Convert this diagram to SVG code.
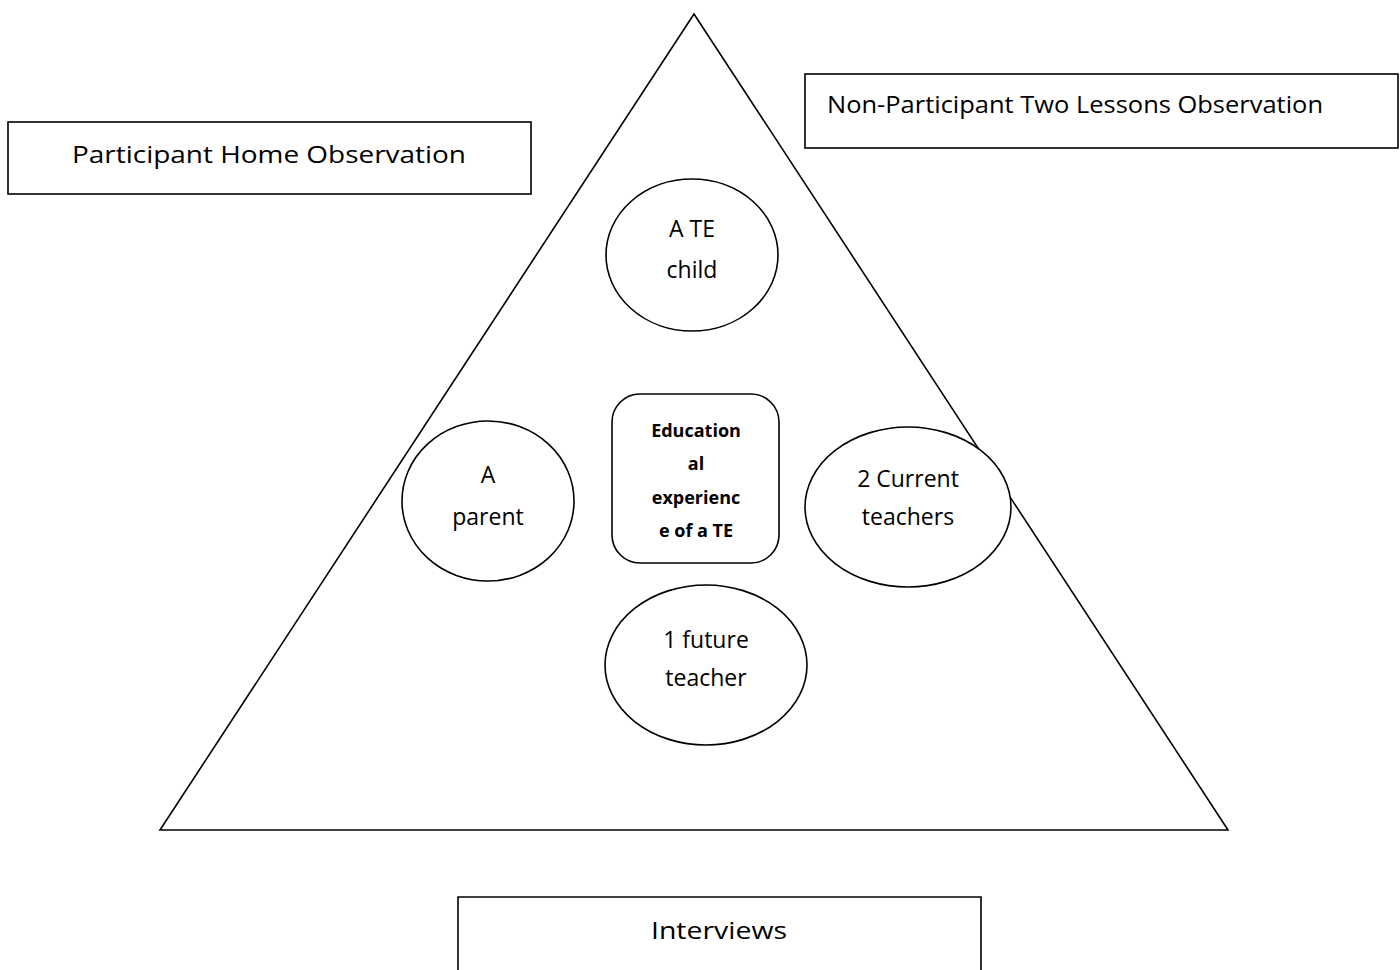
<svg xmlns="http://www.w3.org/2000/svg" width="1400" height="970" viewBox="0 0 1400 970">
<style>
.s{fill:#fff;stroke:#000;stroke-width:1.6}
.t{font-family:"Open Sans",Lato,sans-serif;font-size:23px;fill:#000;text-anchor:middle}
.b{font-family:"Open Sans",Lato,sans-serif;font-size:18px;font-weight:bold;fill:#000;text-anchor:middle}
</style>
<rect width="1400" height="970" fill="#fff"/>
<g id="triangle"><polygon points="694,14 160,830 1228,830" fill="none" stroke="#000" stroke-width="1.6"/></g>
<g id="connectors"></g>
<g id="home"><rect class="s" x="8" y="122" width="523" height="72"/><text class="t" x="269" y="163" font-size="25" textLength="394" lengthAdjust="spacingAndGlyphs">Participant Home Observation</text></g>
<g id="nonpart"><rect class="s" x="805" y="74" width="593" height="74"/><text class="t" x="827" y="113" font-size="25" style="text-anchor:start" textLength="496" lengthAdjust="spacingAndGlyphs">Non-Participant Two Lessons Observation</text></g>
<g id="interviews"><path class="s" d="M458,972 V897 H981 V972"/><text class="t" x="719" y="939" font-size="25" textLength="136" lengthAdjust="spacingAndGlyphs">Interviews</text></g>
<g id="child"><ellipse class="s" cx="692" cy="255" rx="86" ry="76"/><text class="t" x="692" y="237">A TE</text><text class="t" x="692" y="278">child</text></g>
<g id="parent"><ellipse class="s" cx="488" cy="501" rx="86" ry="80"/><text class="t" x="488" y="483">A</text><text class="t" x="488" y="525">parent</text></g>
<g id="current"><ellipse class="s" cx="908" cy="507" rx="103" ry="80"/><text class="t" x="908" y="487">2 Current</text><text class="t" x="908" y="525">teachers</text></g>
<g id="future"><ellipse class="s" cx="706" cy="665" rx="101" ry="80"/><text class="t" x="706" y="648">1 future</text><text class="t" x="706" y="686">teacher</text></g>
<g id="center"><rect class="s" x="612" y="394" width="167" height="169" rx="28"/><text class="b" x="696" y="437">Education</text><text class="b" x="696" y="470">al</text><text class="b" x="696" y="504">experienc</text><text class="b" x="696" y="537">e of a TE</text></g>
</svg>
